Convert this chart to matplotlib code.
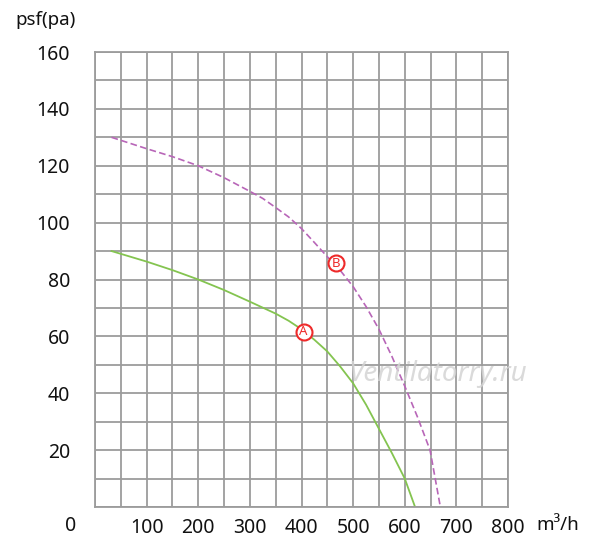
import matplotlib
matplotlib.use("Agg")
import matplotlib.pyplot as plt
import numpy as np

plt.rcParams["font.family"] = ["Noto Sans", "DejaVu Sans"]

# curve A (solid green)
a_flow = [32, 100, 150, 200, 250, 300, 350, 375, 400, 425, 450, 475, 500, 525, 550, 575, 600, 620]
a_pres = [90, 86.3, 83.3, 80, 76.3, 72.2, 68, 65.5, 62.5, 58.8, 54.7, 49.4, 43.5, 36, 27.5, 19, 10, 0]

# curve B (dashed purple)
b_flow = [32, 100, 150, 200, 250, 300, 325, 350, 375, 400, 425, 450, 475, 500, 525, 550, 575, 600,
          625, 649, 669]
b_pres = [130, 126, 123.2, 120, 115.8, 111, 108.5, 105.3, 102, 97.9, 93, 88, 83.2, 77.5, 70.5, 62.5,
          53, 42.5, 31.5, 20, 0]

mark_flow = [404, 467]
mark_pres = [61.6, 85.7]
mark_text = ["A", "B"]

x_ticks = [100, 200, 300, 400, 500, 600, 700, 800]
y_ticks = [20, 40, 60, 80, 100, 120, 140, 160]

fig = plt.figure(figsize=(6, 5.52), dpi=100)
ax = fig.add_axes([95 / 600, 1 - 507 / 552, 413 / 600, 455 / 552])

ax.set_xlim(0, 800)
ax.set_ylim(0, 160)
ax.set_xticks(np.arange(0, 801, 50))
ax.set_yticks(np.arange(0, 161, 10))
ax.grid(True, color="#9c9c9c", lw=1.3)
ax.set_axisbelow(True)
for s in ax.spines.values():
    s.set_color("#9c9c9c")
    s.set_linewidth(1.3)

ax.set_xticklabels([str(v) if v in x_ticks else "" for v in np.arange(0, 801, 50)])
ax.set_yticklabels([str(v) if v in y_ticks else "" for v in np.arange(0, 161, 10)])
ax.tick_params(length=0, labelsize=14, colors="#111111")
ax.tick_params(axis="x", pad=8)
ax.tick_params(axis="y", pad=18)

ax.plot(a_flow, a_pres, color="#84c450", lw=1.3)
ax.plot(b_flow, b_pres, color="#b866b8", lw=1.2, ls=(0, (4, 2)))

for x, y, t in zip(mark_flow, mark_pres, mark_text):
    ax.plot(x, y, "o", ms=11.5, mfc="white", mec="#ee2a2a", mew=1.5, zorder=4)
    ax.text(x, y, t, color="#ee2a2a", fontsize=9.5, ha="center", va="center", zorder=5)

ax.text(-0.06, -0.042, "0", transform=ax.transAxes, fontsize=14, color="#111111",
        ha="center", va="center")
ax.text(1.121, -0.04, "m³/h", transform=ax.transAxes, fontsize=13.5, color="#111111",
        ha="center", va="center")
fig.text(46 / 600, 1 - 20 / 552, "psf(pa)", fontsize=13.5, color="#111111",
         ha="center", va="center")

ax.text(0.83, 0.292, "Ventilatorry.ru", transform=ax.transAxes, fontsize=20,
        style="italic", color="#d4d4d4", alpha=0.85, ha="center", va="center", zorder=3)

fig.savefig("out.png", dpi=100)
